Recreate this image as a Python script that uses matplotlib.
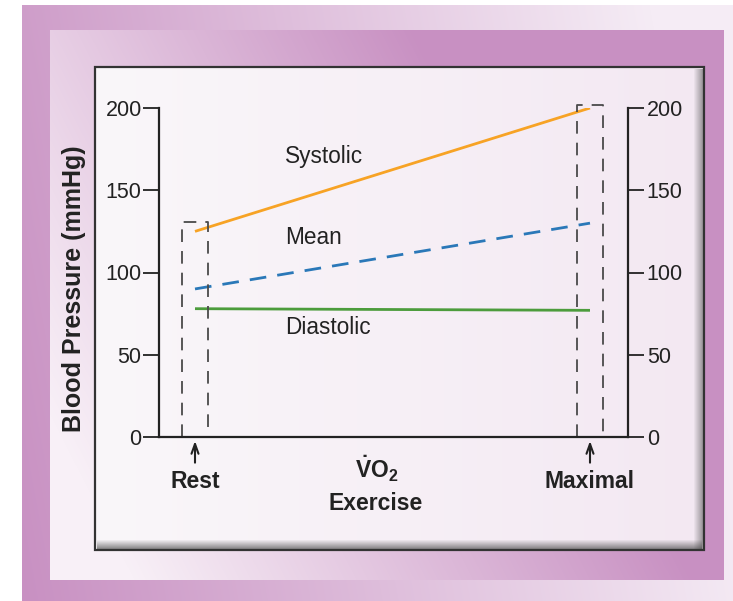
import numpy as np
import matplotlib
matplotlib.use("Agg")
import matplotlib.pyplot as plt
from matplotlib.patches import Rectangle

plt.rcParams["mathtext.fontset"] = "custom"
plt.rcParams["mathtext.rm"] = "Liberation Sans"
plt.rcParams["mathtext.bf"] = "Liberation Sans:bold"

# ---------------- data ----------------
stages = ["Rest", "Maximal"]
stage_pos = [0, 1]
systolic = [125, 200]
mean_bp = [90, 130]
diastolic = [78, 77]
series_names = ["Systolic", "Mean", "Diastolic"]
rest_box_top = 131
max_box_top = 202
yticks = [0, 50, 100, 150, 200]

W, H = 733, 601
fig = plt.figure(figsize=(W / 100, H / 100), dpi=100)
FONT = "Liberation Sans"
TXT = "#222222"

def fx(px):
    return px / W

def fy(py):
    return 1 - py / H

# ---------------- background ----------------
bg = fig.add_axes([0, 0, 1, 1])
bg.set_xlim(0, W)
bg.set_ylim(H, 0)
bg.axis("off")
yy, xx = np.mgrid[0:H, 0:W]
img = np.ones((H, W, 3))
purple = np.array([200, 144, 194]) / 255
light = np.array([245, 236, 245]) / 255
# outer frame: purple on left, lighter towards right
t = np.clip((xx - 22) / 700 * 0.95 + (H - yy) / 601 * 0.15, 0, 1)
outer = purple[None, None, :] * (1 - t[..., None]) + light[None, None, :] * t[..., None]
mask_o = (xx >= 22) & (yy >= 5)
img[mask_o] = outer[mask_o]
# inner panel: light at bottom-left, purple towards top-right
light2 = np.array([248, 240, 247]) / 255
t2 = np.clip(1.2 * (xx - 50) / 673 + 0.5 * (580 - yy) / 550 - 0.15, 0, 1)
inner = light2[None, None, :] * (1 - t2[..., None]) + purple[None, None, :] * t2[..., None]
mask_i = (xx >= 50) & (xx < 724) & (yy >= 30) & (yy < 580)
img[mask_i] = inner[mask_i]
# chart panel
p0 = np.array([250, 247, 250]) / 255
p1 = np.array([243, 232, 242]) / 255
t3 = np.clip((xx - 95) / 610, 0, 1)
panel = p0[None, None, :] * (1 - t3[..., None]) + p1[None, None, :] * t3[..., None]
mask_p = (xx >= 95) & (xx < 704) & (yy >= 67) & (yy < 550)
img[mask_p] = panel[mask_p]
# inner shadows at bottom and right of panel
for k in range(9):
    a = 0.6 * (1 - k / 9)
    r = (yy == 548 - k) & (xx >= 97) & (xx < 702)
    img[r] = img[r] * (1 - a) + np.array([0.25, 0.25, 0.25]) * a
    c = (xx == 702 - k) & (yy >= 69) & (yy < 549)
    img[c] = img[c] * (1 - a * 0.8) + np.array([0.25, 0.25, 0.25]) * a * 0.8
bg.imshow(img, extent=(0, W, H, 0), interpolation="nearest", aspect="auto")
bg.add_patch(Rectangle((95, 67), 609, 483, fill=False, ec="#333333", lw=1.6))

# ---------------- main axes ----------------
x_left, x_right = 159, 628
y_top, y_bot = 108, 437
ax = fig.add_axes([fx(x_left), fy(y_bot), (x_right - x_left) / W, (y_bot - y_top) / H])
ax.patch.set_alpha(0)
px_rest, px_max = 195, 590
unit = px_max - px_rest
ax.set_xlim((x_left - px_rest) / unit, 1 + (x_right - px_max) / unit)
ax.set_ylim(0, 200)

ax.plot(stage_pos, systolic, color="#f7a325", lw=2, solid_capstyle="butt")
ax.plot(stage_pos, mean_bp, color="#2a78b8", lw=2, dashes=(6, 4))
ax.plot(stage_pos, diastolic, color="#4c9c3c", lw=2, solid_capstyle="butt")

# dashed boxes
hw = 0.033
for pos, top in [(0, rest_box_top), (1, max_box_top)]:
    ax.plot([pos - hw, pos - hw, pos + hw, pos + hw], [0, top, top, 0],
            color="#4a4a4a", lw=1.3, dashes=(7, 5), clip_on=False)

ax.spines["top"].set_visible(False)
ax.spines["right"].set_visible(False)
for s in ["left", "bottom"]:
    ax.spines[s].set_linewidth(1.6)
    ax.spines[s].set_color(TXT)
ax.set_yticks(yticks)
ax.set_yticklabels([str(v) for v in yticks], fontsize=15.5, family=FONT, color=TXT)
ax.tick_params(axis="y", length=11.5, width=1.3, pad=1, color=TXT)
ax.set_xticks([])

ax2 = ax.twinx()
ax2.set_ylim(0, 200)
for s in ["top", "left", "bottom"]:
    ax2.spines[s].set_visible(False)
ax2.spines["right"].set_linewidth(1.6)
ax2.spines["right"].set_color(TXT)
ax2.set_yticks(yticks)
ax2.set_yticklabels([str(v) for v in yticks], fontsize=15.5, family=FONT, color=TXT)
ax2.tick_params(axis="y", length=11.5, width=1.3, pad=2, color=TXT)

# series labels
label_y = [157, 237, 327]
for name, py in zip(series_names, label_y):
    fig.text(fx(285), fy(py), name, fontsize=16.3, family=FONT, color=TXT,
             ha="left", va="center")

# arrows and stage labels
for pos, name in zip(stage_pos, stages):
    ax.annotate("", xy=(pos, -0.012), xytext=(pos, -0.078),
                xycoords=("data", "axes fraction"),
                arrowprops=dict(arrowstyle="->, head_length=0.5, head_width=0.18",
                                color=TXT, lw=1.5, mutation_scale=14,
                                shrinkA=0, shrinkB=0))
    ax.text(pos, -0.135, name, transform=ax.get_xaxis_transform(), ha="center",
            va="center", fontsize=16.5, fontweight="bold", family=FONT, color=TXT)

# VO2 / Exercise
fig.text(fx(377), fy(469), r"$\mathbf{\dot{V}O_{2}}$", fontsize=16.5, color=TXT,
         ha="center", va="center")
fig.text(fx(376), fy(503), "Exercise", fontsize=16.5, fontweight="bold", family=FONT,
         color=TXT, ha="center", va="center")

# y label
fig.text(fx(74), fy(289), "Blood Pressure (mmHg)", rotation=90, fontsize=18,
         fontweight="bold", family=FONT, color=TXT, ha="center", va="center")

fig.savefig("out.png", dpi=100)
